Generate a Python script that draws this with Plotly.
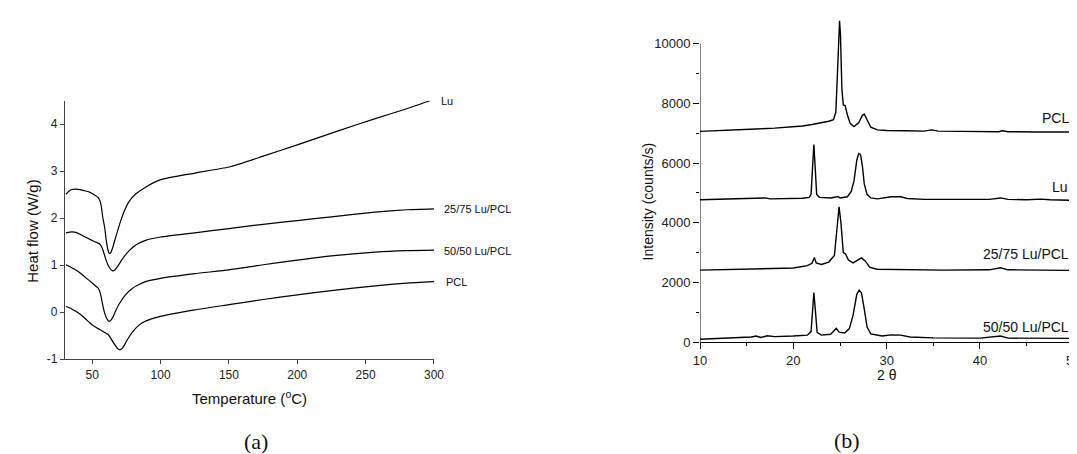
import plotly.graph_objects as go

# ---------------- DSC data (panel a) ----------------
lu_t = [30.8, 32.7, 35, 38, 41, 45, 48.3, 52, 54.3, 55.8, 56.8, 57.8, 59.1, 60.3, 61.3, 62.5, 63.6, 65, 67, 70, 73, 77, 82, 89, 100, 125, 150, 175, 200, 231, 257, 280, 297]
lu_h = [2.51, 2.57, 2.61, 2.62, 2.61, 2.58, 2.55, 2.49, 2.44, 2.36, 2.22, 2.0, 1.80, 1.52, 1.35, 1.25, 1.27, 1.38, 1.58, 1.87, 2.12, 2.36, 2.52, 2.66, 2.82, 2.96, 3.09, 3.32, 3.56, 3.87, 4.12, 4.33, 4.50]

b2575_t = [30.8, 35, 38, 41, 45, 48.3, 52, 55.5, 57, 58.5, 60, 61.5, 63, 64.8, 66.5, 68.7, 72, 77, 83, 89, 100, 125, 150, 175, 200, 225, 257, 280, 300]
b2575_h = [1.69, 1.71, 1.70, 1.66, 1.60, 1.55, 1.50, 1.45, 1.38, 1.26, 1.12, 1.01, 0.93, 0.88, 0.90, 0.98, 1.13, 1.31, 1.45, 1.53, 1.60, 1.69, 1.78, 1.87, 1.95, 2.03, 2.13, 2.18, 2.20]

b5050_t = [30.8, 33, 36, 40, 45.9, 50, 54.3, 55.5, 56.5, 57.9, 59.2, 60.5, 62, 63.3, 65, 67, 70, 74, 79.5, 85, 89, 100, 125, 150, 175, 200, 225, 257, 280, 300]
b5050_h = [1.01, 0.98, 0.93, 0.86, 0.72, 0.62, 0.51, 0.44, 0.33, 0.12, -0.03, -0.13, -0.19, -0.18, -0.11, 0.02, 0.19, 0.36, 0.51, 0.60, 0.65, 0.72, 0.82, 0.90, 1.01, 1.11, 1.20, 1.28, 1.31, 1.32]

pcl_t = [30.8, 35, 38, 41, 45, 48.3, 52, 55.5, 58.5, 61.5, 63.5, 65.1, 67, 68.8, 70.2, 71.8, 73.5, 76, 79.5, 84, 89, 100, 125, 150, 175, 200, 225, 257, 280, 300]
pcl_h = [0.12, 0.07, 0.02, -0.04, -0.14, -0.23, -0.31, -0.37, -0.42, -0.47, -0.55, -0.63, -0.71, -0.78, -0.80, -0.77, -0.70, -0.57, -0.42, -0.28, -0.19, -0.09, 0.05, 0.16, 0.27, 0.37, 0.46, 0.56, 0.62, 0.65]

dsc_labels = ["Lu", "25/75 Lu/PCL", "50/50 Lu/PCL", "PCL"]
dsc_yticks = [-1, 0, 1, 2, 3, 4]
dsc_yticktext = ["-1", "0", "1", "2", "3", "4"]
dsc_xticks = [50, 100, 150, 200, 250, 300]

# ---------------- XRD data (panel b) ----------------
xpcl_2t = [10, 12, 14, 16, 18, 20, 21, 22, 23, 23.8, 24.3, 24.55, 24.7, 24.85, 24.95, 25.05, 25.2, 25.35, 25.55, 25.8, 26.1, 26.5, 27.0, 27.4, 27.6, 27.9, 28.3, 29, 30, 32, 34, 34.8, 35.5, 38, 40, 42, 42.4, 43, 46, 50]
xpcl_i = [7060, 7080, 7110, 7140, 7170, 7200, 7240, 7290, 7340, 7400, 7450, 7700, 8800, 10500, 10770, 10300, 8500, 7950, 7930, 7600, 7320, 7220, 7350, 7600, 7640, 7450, 7200, 7110, 7090, 7080, 7070, 7110, 7070, 7060, 7050, 7050, 7080, 7050, 7040, 7040]

xlu_2t = [10, 12, 14, 16, 17, 17.5, 19, 20, 21, 21.7, 21.9, 22.05, 22.2, 22.35, 22.5, 22.8, 24, 24.8, 25, 25.8, 26.2, 26.5, 26.8, 27.0, 27.2, 27.4, 27.6, 27.9, 28.3, 29, 30, 30.5, 31.5, 32.2, 34, 38, 41, 42.2, 43, 45, 46.5, 47.5, 50]
xlu_i = [4770, 4780, 4790, 4800, 4830, 4800, 4800, 4810, 4820, 4850, 4950, 5800, 6620, 5800, 4950, 4850, 4830, 4880, 4830, 4870, 5050, 5400, 6100, 6320, 6280, 5900, 5300, 4950, 4830, 4800, 4830, 4870, 4870, 4810, 4780, 4770, 4780, 4830, 4780, 4770, 4790, 4770, 4750]

x2575_2t = [10, 14, 18, 20, 21.5, 22.0, 22.25, 22.45, 23, 23.8, 24.4, 24.65, 24.9, 25.1, 25.35, 25.6, 25.9, 26.4, 26.9, 27.3, 27.7, 28.2, 29, 32, 36, 41, 42.2, 43, 45, 50]
x2575_i = [2410, 2430, 2450, 2480, 2560, 2640, 2830, 2650, 2600, 2680, 2900, 3800, 4530, 4000, 3000, 2950, 2750, 2650, 2730, 2820, 2720, 2500, 2440, 2420, 2410, 2420, 2490, 2420, 2410, 2400]

x5050_2t = [10, 12, 14, 15.5, 16, 16.5, 17.2, 18, 20, 21.5, 21.9, 22.05, 22.2, 22.35, 22.55, 23, 24, 24.6, 24.9, 25.5, 26, 26.4, 26.8, 27.05, 27.3, 27.6, 27.9, 28.3, 29.5, 30.5, 31.5, 32.5, 35, 40, 42.2, 43, 46, 50]
x5050_i = [90, 110, 130, 170, 200, 150, 210, 180, 200, 230, 350, 1100, 1660, 1100, 320, 230, 260, 460, 330, 300, 450, 900, 1600, 1740, 1650, 1100, 500, 270, 200, 240, 230, 170, 140, 130, 200, 130, 120, 120]

xrd_labels = ["PCL", "Lu", "25/75 Lu/PCL", "50/50 Lu/PCL"]
xrd_yticks = [0, 2000, 4000, 6000, 8000, 10000]
xrd_yminor = [1000, 3000, 5000, 7000, 9000]
xrd_xticks = [10, 20, 30, 40, 50]
xrd_xminor = [15, 25, 35, 45]

W, H = 1077, 454
def px(x):
    return x / W
def py(y):
    return 1 - y / H

fig = go.Figure()
line_a = dict(color="black", width=1.2, shape="spline", smoothing=0.5)
for t, h in [(lu_t, lu_h), (b2575_t, b2575_h), (b5050_t, b5050_h), (pcl_t, pcl_h)]:
    fig.add_trace(go.Scatter(x=t, y=h, mode="lines", line=line_a, xaxis="x", yaxis="y", showlegend=False))

line_b = dict(color="black", width=1.4)
for t, i in [(xpcl_2t, xpcl_i), (xlu_2t, xlu_i), (x2575_2t, x2575_i), (x5050_2t, x5050_i)]:
    fig.add_trace(go.Scatter(x=t, y=i, mode="lines", line=line_b, xaxis="x2", yaxis="y2", showlegend=False))

sans = "Liberation Sans"
axcol = "#444"
tickfont_a = dict(family=sans, size=12, color="#222")
tickfont_b = dict(family=sans, size=13, color="#222")

fig.update_layout(
    width=W, height=H, margin=dict(l=0, r=0, t=0, b=0),
    paper_bgcolor="white", plot_bgcolor="white",
    xaxis=dict(domain=[px(50.7), px(425.7)], range=[30, 300], tickvals=dsc_xticks,
               showline=True, linecolor=axcol, linewidth=1, ticks="outside", ticklen=4, tickcolor=axcol,
               showgrid=False, zeroline=False, tickfont=tickfont_a, anchor="y"),
    yaxis=dict(domain=[py(357.5), py(94.4)], range=[-1, 4.5], tickvals=dsc_yticks, ticktext=dsc_yticktext,
               showline=True, linecolor=axcol, linewidth=1, ticks="outside", ticklen=4, tickcolor=axcol,
               showgrid=False, zeroline=False, tickfont=tickfont_a, anchor="x"),
    xaxis2=dict(domain=[px(696), px(1075.3)], range=[10, 50], tickvals=xrd_xticks,
                showline=True, linecolor="black", linewidth=1, ticks="outside", ticklen=6, tickcolor="black",
                minor=dict(tickvals=xrd_xminor, ticks="outside", ticklen=3, tickcolor="black"),
                showgrid=False, zeroline=False, tickfont=tickfont_b, anchor="y2", ticklabeloverflow="allow"),
    yaxis2=dict(domain=[py(340), py(6)], range=[0, 11000], tickvals=xrd_yticks, tickformat="d",
                showline=False, ticks="outside", ticklen=6, tickcolor="black",
                minor=dict(tickvals=xrd_yminor, ticks="outside", ticklen=3, tickcolor="black"),
                showgrid=False, zeroline=False, tickfont=tickfont_b, anchor="x2"),
)

# y axis line of panel b only up to the 10000 tick
fig.add_shape(type="line", xref="x2", yref="y2", x0=10, x1=10, y0=0, y1=10000,
              line=dict(color="black", width=1))

ann = []
ann.append(dict(text="Heat flow (W/g)", x=px(17), y=py(227), textangle=-90, font=dict(family=sans, size=15, color="#111")))
ann.append(dict(text="Temperature (<sup>o</sup>C)", x=px(238), y=py(396), font=dict(family=sans, size=15, color="#111")))
ann.append(dict(text="Intensity (counts/s)", x=px(643), y=py(197), textangle=-90, font=dict(family=sans, size=14, color="#111")))
ann.append(dict(text="2 θ", x=px(886), y=py(374), font=dict(family=sans, size=14, color="#111")))
ann.append(dict(text="(a)", x=px(245), y=py(441), font=dict(family="Liberation Serif", size=22, color="#111")))
ann.append(dict(text="(b)", x=px(845), y=py(440), font=dict(family="Liberation Serif", size=22, color="#111")))
for a in ann:
    a.update(xref="paper", yref="paper", showarrow=False, xanchor="center", yanchor="middle")
fig.update_layout(annotations=ann)

for lab, (xx, yy) in zip(dsc_labels, [(431, 95), (434, 205), (434, 247), (436, 279)]):
    fig.add_annotation(text=lab, x=px(xx), y=py(yy), xref="paper", yref="paper", showarrow=False,
                       xanchor="left", yanchor="middle", font=dict(family=sans, size=11, color="#111"))
for lab, (xx, yy) in zip(xrd_labels, [(1073, 112), (1072, 182), (1073, 250), (1073, 325)]):
    fig.add_annotation(text=lab, x=px(xx), y=py(yy), xref="paper", yref="paper", showarrow=False,
                       xanchor="right", yanchor="middle", font=dict(family=sans, size=14, color="#111"))

fig.write_html("out.html")
